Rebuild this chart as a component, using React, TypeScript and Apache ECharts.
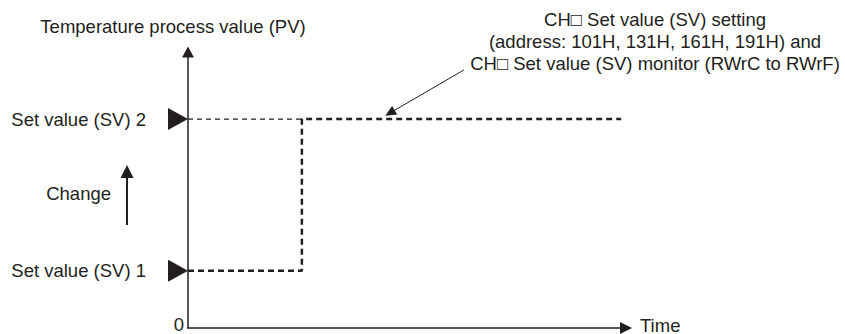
import React, { useEffect, useRef } from "react";
import * as echarts from "echarts";

// ---- data ----
const SET_VALUE_LABELS = ["Set value (SV) 1", "Set value (SV) 2"];
const SET_VALUES = [20.7, 75.7]; // SV1, SV2 (PV axis units, 0..100)
const CHANGE_TIME = 26; // time at which SV is changed
const END_TIME = 98.9;
const SV_TIMES = [0, CHANGE_TIME, CHANGE_TIME, END_TIME];
const SV_VALUES = [SET_VALUES[0], SET_VALUES[0], SET_VALUES[1], SET_VALUES[1]];
const OLD_SV2_TIMES = [0, CHANGE_TIME];
const OLD_SV2_VALUES = [SET_VALUES[1], SET_VALUES[1]];
const ANNOTATION_FROM = [63.0, 93.5];
const ANNOTATION_TO = [46.1, 77.9];
const Y_TITLE = "Temperature process value (PV)";
const X_TITLE = "Time";
const ORIGIN_LABEL = "0";
const ANNOTATION_LINES = [
  "CH\u25A1 Set value (SV) setting",
  "(address: 101H, 131H, 161H, 191H) and",
  "CH\u25A1 Set value (SV) monitor (RWrC to RWrF)",
];
const CHANGE_LABEL = "Change";

const INK = "#231f20";
const FONT = "'Liberation Sans', Arial, Helvetica, sans-serif";
const FS = 18.5;

export default function App() {
  const ref = useRef<HTMLDivElement>(null);
  useEffect(() => {
    document.body.style.margin = "0";
    const chart = echarts.init(ref.current!, null, { renderer: "svg" });
    const textStyle = { color: INK, fontFamily: FONT, fontSize: FS };
    chart.setOption({
      animation: false,
      backgroundColor: "#ffffff",
      textStyle: { fontFamily: FONT },
      grid: { left: 188, right: 219, top: 52, bottom: 6, containLabel: false, outerBoundsMode: "none" },
      xAxis: {
        type: "value",
        min: 0,
        max: 100,
        name: X_TITLE,
        nameLocation: "end",
        nameGap: 14,
        nameTextStyle: { ...textStyle, align: "left", verticalAlign: "bottom", lineHeight: 6 },
        axisLine: { show: true, symbol: ["none", "triangle"], symbolSize: [12, 12], lineStyle: { color: INK, width: 1.5 } },
        axisTick: { show: false },
        axisLabel: { show: false },
        splitLine: { show: false },
      },
      yAxis: [
        {
          type: "value",
          min: 0,
          max: 100,
          position: "left",
          name: Y_TITLE,
          nameLocation: "end",
          nameGap: 26,
          nameTextStyle: { ...textStyle, align: "center", verticalAlign: "middle", padding: [0, 30, 0, 0] },
          axisLine: { show: true, onZero: false, symbol: ["none", "triangle"], symbolSize: [12, 11], lineStyle: { color: INK, width: 1.5 } },
          axisTick: { show: false },
          splitLine: { show: false },
          axisLabel: {
            ...textStyle,
            margin: 42,
            customValues: SET_VALUES,
            formatter: (v: number) => {
              const i = SET_VALUES.findIndex((s) => Math.abs(s - v) < 1e-6);
              return i >= 0 ? SET_VALUE_LABELS[i] : "";
            },
          },
        },
        {
          type: "value",
          min: 0,
          max: 100,
          position: "left",
          offset: 0,
          axisLine: { show: false },
          axisTick: { show: false },
          splitLine: { show: false },
          axisLabel: {
            ...textStyle,
            margin: 4,
            customValues: [0],
            verticalAlign: "bottom",
            lineHeight: 8,
            formatter: (v: number) => (v === 0 ? ORIGIN_LABEL : ""),
          },
        },
      ],
      series: [
        {
          type: "line",
          name: "previous SV2",
          data: OLD_SV2_TIMES.map((t, i) => [t, OLD_SV2_VALUES[i]]),
          symbol: "none",
          lineStyle: { color: INK, width: 1.2, type: [5, 4] },
          silent: true,
        },
        {
          type: "line",
          name: "Set value",
          data: SV_TIMES.map((t, i) => [t, SV_VALUES[i]]),
          symbol: "none",
          lineStyle: { color: INK, width: 2.5, type: [6, 4] },
          silent: true,
          markLine: {
            silent: true,
            symbol: ["none", "triangle"],
            symbolSize: [10, 11],
            label: { show: false },
            lineStyle: { color: INK, width: 1, type: "solid" },
            emphasis: { disabled: true },
            data: [[{ coord: ANNOTATION_FROM }, { coord: ANNOTATION_TO }]],
          },
        },
        {
          type: "scatter",
          name: "markers",
          data: SET_VALUES.map((v) => [0, v]),
          symbol: "triangle",
          symbolSize: [22, 20],
          symbolRotate: -90,
          symbolOffset: [-10, 0],
          itemStyle: { color: INK, opacity: 1 },
          clip: false,
          silent: true,
        },
      ],
      graphic: [
        {
          type: "text",
          x: 655,
          y: 8,
          style: {
            text: ANNOTATION_LINES.join("\n"),
            fill: INK,
            fontFamily: FONT,
            fontSize: FS,
            lineHeight: 22,
            align: "center",
            verticalAlign: "top",
          },
        },
        {
          type: "text",
          x: 111,
          y: 193,
          style: { text: CHANGE_LABEL, fill: INK, fontFamily: FONT, fontSize: FS, align: "right", verticalAlign: "middle" },
        },
        {
          type: "line",
          shape: { x1: 127, y1: 225, x2: 127, y2: 176 },
          style: { stroke: INK, lineWidth: 2 },
        },
        {
          type: "polygon",
          shape: { points: [[127, 165], [120.5, 178], [133.5, 178]] },
          style: { fill: INK },
        },
      ],
    });
    return () => chart.dispose();
  }, []);
  return <div ref={ref} style={{ width: 845, height: 334, overflow: "hidden" }} />;
}
